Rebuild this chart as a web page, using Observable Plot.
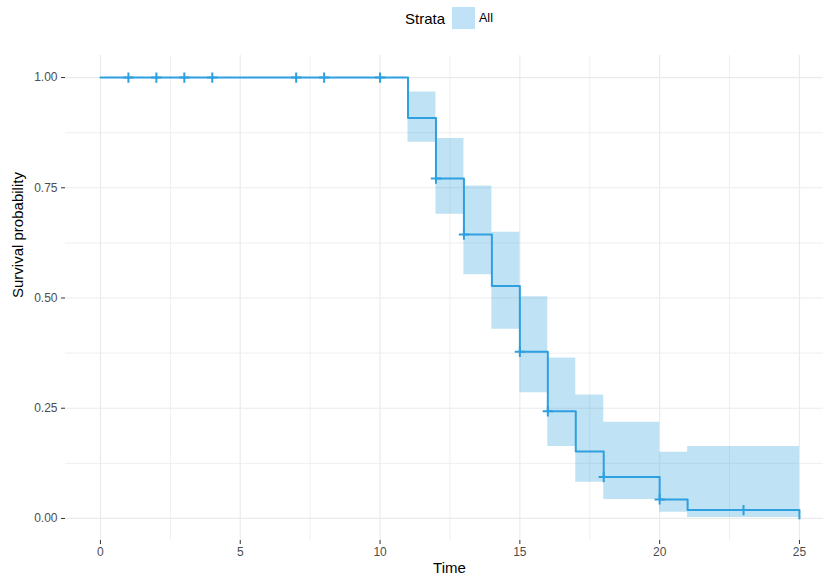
<!DOCTYPE html>
<html>
<head>
<meta charset="utf-8">
<script src="https://cdn.jsdelivr.net/npm/d3@7"></script>
<script src="https://cdn.jsdelivr.net/npm/@observablehq/plot@0.6"></script>
<style>
  html, body { margin: 0; padding: 0; background: #fff; overflow: hidden; }
  body { width: 823px; height: 580px; position: relative; font-family: "Liberation Sans", Arial, sans-serif; }
  #legend { position: absolute; left: 405px; top: 7px; height: 22px; display: flex; align-items: center; }
  #legend .title { font-size: 15px; color: #000; margin-right: 7px; }
  #legend .key { width: 23px; height: 22px; background: #c0e2f6; margin-right: 4px; }
  #legend .lab { font-size: 12.5px; color: #000; }
  #chart { position: absolute; left: 0; top: 40px; }
</style>
</head>
<body>
<div id="legend"><span class="title">Strata</span><span class="key"></span><span class="lab">All</span></div>
<div id="chart"></div>
<script>
// Kaplan–Meier estimate (step points)
const times = [0, 11, 12, 13, 14, 15, 16, 17, 18, 20, 21, 25];
const surv  = [1, 0.908, 0.771, 0.644, 0.527, 0.378, 0.243, 0.152, 0.094, 0.043, 0.019, 0.0];
const upper = [1, 0.967, 0.862, 0.754, 0.649, 0.503, 0.364, 0.280, 0.218, 0.150, 0.163, 0.163];
const lower = [1, 0.853, 0.690, 0.553, 0.429, 0.285, 0.163, 0.082, 0.043, 0.014, 0.002, 0.002];
// Censored observations
const censorTimes = [1, 2, 3, 4, 7, 8, 10, 12, 13, 15, 16, 18, 20, 23];
const censorSurv  = [1, 1, 1, 1, 1, 1, 1, 0.771, 0.644, 0.378, 0.243, 0.094, 0.043, 0.019];
// Ticks / grid
const xMajor = [0, 5, 10, 15, 20, 25];
const xMinor = [2.5, 7.5, 12.5, 17.5, 22.5];
const yMajor = [0, 0.25, 0.5, 0.75, 1];
const yMinor = [0.125, 0.375, 0.625, 0.875];

const km = times.map((t, i) => ({time: t, surv: surv[i], upper: upper[i], lower: lower[i]}));
const censors = censorTimes.map((t, i) => ({time: t, surv: censorSurv[i]}));

const col = "#2e9fdf";
const chart = Plot.plot({
  width: 823,
  height: 540,
  marginLeft: 65,
  marginRight: 0,
  marginTop: 15,
  marginBottom: 40,
  style: {fontFamily: "Liberation Sans, Arial, sans-serif", background: "#fff"},
  x: {domain: [-1.25, 25.86]},
  y: {domain: [-0.05, 1.05]},
  marks: [
    Plot.ruleX(xMinor, {stroke: "#efefef", strokeWidth: 1}),
    Plot.ruleY(yMinor, {stroke: "#efefef", strokeWidth: 1}),
    Plot.ruleX(xMajor, {stroke: "#ebebeb", strokeWidth: 1.2}),
    Plot.ruleY(yMajor, {stroke: "#ebebeb", strokeWidth: 1.2}),
    Plot.areaY(km, {x: "time", y1: "lower", y2: "upper", curve: "step-after", fill: col, fillOpacity: 0.3}),
    Plot.line(km, {x: "time", y: "surv", curve: "step-after", stroke: col, strokeWidth: 2}),
    Plot.dot(censors, {x: "time", y: "surv", symbol: "plus", r: 3.4, stroke: col, strokeWidth: 2}),
    Plot.axisX(xMajor, {tickSize: 4, tickPadding: 3, fontSize: 12, stroke: "#333", fill: "#4d4d4d", label: null}),
    Plot.axisY(yMajor, {tickSize: 4, tickPadding: 4, fontSize: 12, stroke: "#333", fill: "#4d4d4d", label: null, tickFormat: d => d.toFixed(2)}),
    Plot.text(["Time"], {frameAnchor: "bottom", dy: 32, dx: 5, fontSize: 15, fill: "#000"}),
    Plot.text(["Survival probability"], {frameAnchor: "left", rotate: -90, dx: -47, fontSize: 15, fill: "#000"})
  ]
});
document.getElementById("chart").appendChild(chart);
</script>
</body>
</html>
